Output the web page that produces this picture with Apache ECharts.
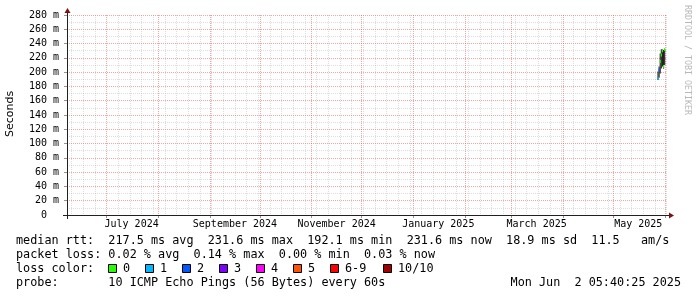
<!DOCTYPE html>
<html><head><meta charset="utf-8">
<script src="https://cdn.jsdelivr.net/npm/echarts@6/dist/echarts.min.js"></script>
<style>html,body{margin:0;padding:0;background:#fff}#c{width:697px;height:297px}</style>
</head><body><div id="c"></div>
<script>
// ---- data ----
const endTime = '2025-06-02T05:40:25Z';
const spanDays = 360;
const monthStarts = ['2024-07-01','2024-08-01','2024-09-01','2024-10-01','2024-11-01','2024-12-01',
  '2025-01-01','2025-02-01','2025-03-01','2025-04-01','2025-05-01','2025-06-01'];
const monthLabelDates = ['2024-07-16','2024-09-16','2024-11-16','2025-01-16','2025-03-16','2025-05-16'];
const monthLabelTexts = ['July 2024','September 2024','November 2024','January 2025','March 2025','May 2025'];
const yTickValues = [0,20,40,60,80,100,120,140,160,180,200,220,240,260,280];
const yMinorValues = [10,30,50,70,90,110,130,150,170,190,210,230,250,270];

const sampleTimes = ['2025-05-27T20:00:00Z','2025-05-28T12:00:00Z','2025-05-29T04:00:00Z',
  '2025-05-29T20:00:00Z','2025-05-30T12:00:00Z','2025-05-31T04:00:00Z','2025-05-31T20:00:00Z'];
const medianRtt = [191.5, 203, 215, 224, 230, 208, 231.6];
const lossIndex = [1, 2, 0, 0, 0, 0, 0];
const smokeLow  = [189, 192, 198, 205, 208, 205, 210];
const smokeHigh = [201, 208, 226, 232, 232, 231, 232];

const lossLabels = ['0','1','2','3','4','5','6-9','10/10'];
const lossColors = ['#26ff00','#00b8ff','#0059ff','#7e00ff','#ff00ff','#ff5500','#ff0000','#a10000'];
const statsLine = 'median rtt:  217.5 ms avg  231.6 ms max  192.1 ms min  231.6 ms now  18.9 ms sd  11.5   am/s';
const lossLine  = 'packet loss: 0.02 % avg  0.14 % max  0.00 % min  0.03 % now';
const colorLine = 'loss color:';
const probeLine = 'probe:       10 ICMP Echo Pings (56 Bytes) every 60s';
const stampText = 'Mon Jun  2 05:40:25 2025';
const yAxisName = 'Seconds';
const watermark = 'RRDTOOL / TOBI OETIKER';

// ---- build ----
const DAY = 86400000;
const END = Date.parse(endTime);
const START = END - spanDays * DAY;
const monthVals = monthStarts.map(d => Date.parse(d + 'T00:00:00Z'));
const labelVals = monthLabelDates.map(d => Date.parse(d + 'T00:00:00Z'));
const weekVals = [];
{
  let t = Date.parse('2024-06-10T00:00:00Z');
  while (t <= END) { if (monthVals.indexOf(t) < 0) weekVals.push(t); t += 7 * DAY; }
}
const times = sampleTimes.map(s => Date.parse(s));
const HALF = (times[1] - times[0]) / 2;

const GRID = 'rgba(143,143,143,0.3)';
const MGRID = 'rgba(224,80,80,0.5)';
const TICK = 'rgba(120,120,120,0.8)';
const AXIS = '#202020';
const ARROW = '#801010';
const MONO = '"DejaVu Sans Mono", "Liberation Mono", monospace';

const L = 67, T = 15, W = 600, H = 200;
const X0 = L, Y0 = T + H;

const chart = echarts.init(document.getElementById('c'), null, {renderer: 'canvas'});

const legendGraphics = [];
const rowY = [241, 255, 269, 283];
const LEG_FS = 11.8;
function txt(x, y, s, align) {
  return {type: 'text', x: x, y: y, silent: true,
    style: {text: s, fontFamily: MONO, fontSize: LEG_FS, fill: '#000', align: align || 'left', verticalAlign: 'middle'}};
}
legendGraphics.push(txt(16, rowY[0], statsLine));
legendGraphics.push(txt(16, rowY[1], lossLine));
legendGraphics.push(txt(16, rowY[2], colorLine));
legendGraphics.push(txt(16, rowY[3], probeLine));
legendGraphics.push(txt(681, rowY[3], stampText, 'right'));
const boxX = [108, 145, 182, 219, 256, 293, 330, 383];
lossLabels.forEach((lab, i) => {
  legendGraphics.push({type: 'rect', silent: true,
    shape: {x: boxX[i] + 0.5, y: rowY[2] - 4.5, width: 8, height: 8},
    style: {fill: lossColors[i], stroke: '#000', lineWidth: 1}});
  legendGraphics.push(txt(boxX[i] + 15, rowY[2], lab));
});

const axisGraphics = [
  {type: 'line', silent: true, shape: {x1: X0 - 4, y1: Y0 + 0.5, x2: X0 + W + 4, y2: Y0 + 0.5}, style: {stroke: AXIS, lineWidth: 1}, z: 10},
  {type: 'line', silent: true, shape: {x1: X0 + 0.5, y1: Y0 + 4, x2: X0 + 0.5, y2: T - 4}, style: {stroke: AXIS, lineWidth: 1}, z: 10},
  {type: 'polygon', silent: true, shape: {points: [[X0 + W + 2, Y0 - 2.5], [X0 + W + 2, Y0 + 3.5], [X0 + W + 7, Y0 + 0.5]]}, style: {fill: ARROW}, z: 10},
  {type: 'polygon', silent: true, shape: {points: [[X0 - 2.5, T - 2], [X0 + 3.5, T - 2], [X0 + 0.5, T - 7]]}, style: {fill: ARROW}, z: 10},
  {type: 'text', silent: true, x: 10, y: 114, rotation: Math.PI / 2,
    style: {text: yAxisName, fontFamily: '"DejaVu Sans", sans-serif', fontSize: 11, fill: '#000', align: 'center', verticalAlign: 'middle'}},
  {type: 'text', silent: true, x: 687, y: 5, rotation: -Math.PI / 2,
    style: {text: watermark, fontFamily: MONO, fontSize: 8.3, fill: '#b8b8b8', align: 'left', verticalAlign: 'middle'}}
];

const option = {
  animation: false,
  backgroundColor: '#ffffff',
  grid: {left: L, top: T, width: W, height: H, containLabel: false},
  xAxis: [
    {type: 'value', min: START, max: END, position: 'bottom',
      axisLine: {show: false}, axisLabel: {show: false},
      axisTick: {show: false, customValues: weekVals},
      splitLine: {show: true, lineStyle: {color: GRID, width: 1, type: [1, 1]}}},
    {type: 'value', min: START, max: END, position: 'bottom',
      axisLine: {show: false},
      axisTick: {show: true, customValues: monthVals, length: 3, lineStyle: {color: TICK}},
      axisLabel: {show: true, customValues: labelVals, margin: 4,
        fontFamily: MONO, fontSize: 10, color: '#000',
        formatter: function (v) {
          let best = 0, bd = Infinity;
          labelVals.forEach((lv, i) => { const d = Math.abs(lv - v); if (d < bd) { bd = d; best = i; } });
          return monthLabelTexts[best];
        }},
      splitLine: {show: true, lineStyle: {color: MGRID, width: 1, type: [1, 1]}}}
  ],
  yAxis: [
    {type: 'value', min: 0, max: 280, position: 'left',
      axisLine: {show: false}, axisLabel: {show: false}, axisTick: {show: false, customValues: yMinorValues},
      splitLine: {show: true, lineStyle: {color: GRID, width: 1, type: [1, 1]}}},
    {type: 'value', min: 0, max: 280, position: 'left',
      axisLine: {show: false},
      axisTick: {show: true, customValues: yTickValues, length: 3, lineStyle: {color: TICK}},
      axisLabel: {show: true, customValues: yTickValues, margin: 8,
        fontFamily: MONO, fontSize: 10, color: '#000',
        formatter: function (v) { return v === 0 ? '0  ' : v + ' m'; }},
      splitLine: {show: true, lineStyle: {color: MGRID, width: 1, type: [1, 1]}}}
  ],
  series: [
    {type: 'custom', name: 'smoke', xAxisIndex: 0, yAxisIndex: 0, silent: true,
      encode: {x: 0, y: [1, 2]},
      data: times.map((t, i) => [t, smokeLow[i], smokeHigh[i]]),
      renderItem: function (params, api) {
        const t = api.value(0);
        const a = api.coord([t - HALF, api.value(2)]);
        const b = api.coord([t + HALF, api.value(1)]);
        return {type: 'rect', shape: {x: a[0], y: a[1], width: b[0] - a[0], height: b[1] - a[1]},
          style: {fill: '#222222'}};
      }},
    {type: 'custom', name: 'median', xAxisIndex: 0, yAxisIndex: 0, silent: true, z: 3,
      encode: {x: 0, y: 1},
      data: times.map((t, i) => [t, medianRtt[i], lossIndex[i]]),
      renderItem: function (params, api) {
        const t = api.value(0);
        const a = api.coord([t - HALF, api.value(1)]);
        const b = api.coord([t + HALF, api.value(1)]);
        return {type: 'rect', shape: {x: a[0], y: a[1] - 1.5, width: b[0] - a[0], height: 3},
          style: {fill: lossColors[api.value(2)]}};
      }}
  ],
  graphic: axisGraphics.concat(legendGraphics)
};
chart.setOption(option);
</script>
</body></html>
